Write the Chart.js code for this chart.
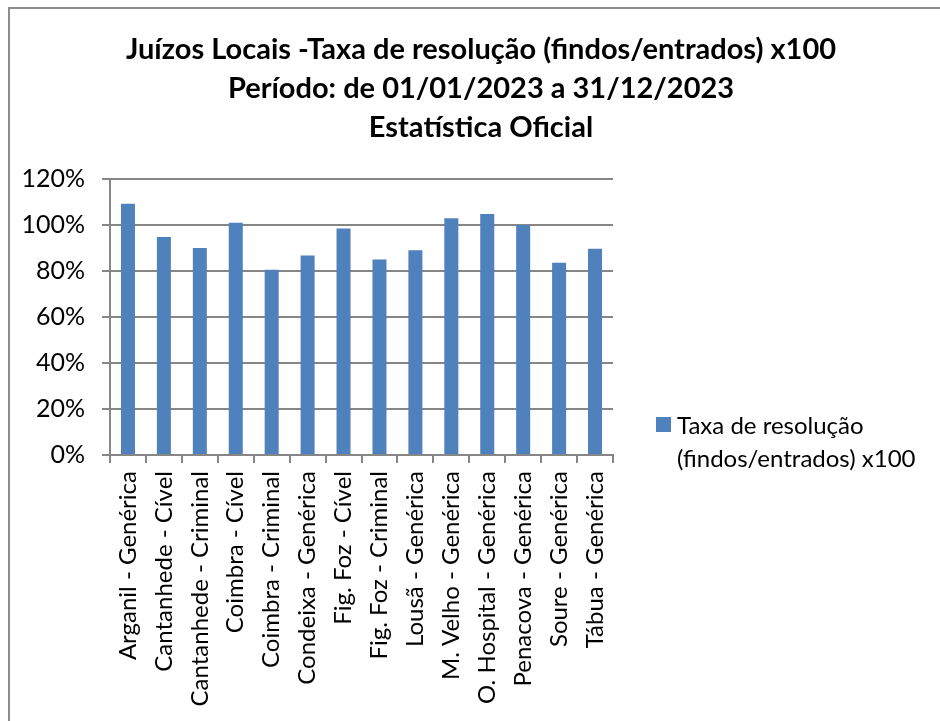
<!DOCTYPE html>
<html>
<head>
<meta charset="utf-8">
<script src="https://cdn.jsdelivr.net/npm/chart.js@4.4.0/dist/chart.umd.min.js"></script>
<style>
  html, body { margin: 0; padding: 0; background: #fff; }
  #wrap { position: relative; width: 940px; height: 721px; overflow: hidden; }
  #frame { position: absolute; left: 8px; top: 7px; width: 1000px; height: 1000px; border: 2px solid #8c8c8c; }
  canvas { position: absolute; left: 0; top: 0; }
  #legend-box { position: absolute; left: 656px; top: 417px; width: 15px; height: 15px; background: #4f81bd; }
  #legend-text { position: absolute; left: 677px; top: 408px; font-family: Lato, sans-serif; font-size: 24px; line-height: 33px; color: #000; white-space: nowrap; }
</style>
</head>
<body>
<div id="wrap">
  <div id="frame"></div>
  <canvas id="chart" width="940" height="721"></canvas>
  <div id="legend-box"></div>
  <div id="legend-text">Taxa de resolução<br>(findos/entrados) x100</div>
</div>
<script>
document.addEventListener("DOMContentLoaded", () => {
  const categories = [
    "Arganil - Genérica", "Cantanhede - Cível", "Cantanhede - Criminal", "Coimbra - Cível",
    "Coimbra - Criminal", "Condeixa - Genérica", "Fig. Foz - Cível", "Fig. Foz - Criminal",
    "Lousã - Genérica", "M. Velho - Genérica", "O. Hospital - Genérica", "Penacova - Genérica",
    "Soure - Genérica", "Tábua - Genérica"
  ];
  const taxa = [109.2, 94.8, 90.0, 101.0, 80.5, 86.7, 98.5, 85.0, 89.0, 102.9, 104.8, 100.0, 83.6, 89.7];
  const titleLines = [
    "Juízos Locais -Taxa de resolução (findos/entrados) x100",
    "Período: de 01/01/2023 a 31/12/2023",
    "Estatística Oficial"
  ];
  const gridColor = "#868686";

  const ctx = document.getElementById("chart").getContext("2d");
  new Chart(ctx, {
    type: "bar",
    data: {
      labels: categories,
      datasets: [{
        label: "Taxa de resolução (findos/entrados) x100",
        data: taxa,
        backgroundColor: "#4f81bd",
        borderWidth: 0,
        categoryPercentage: 1,
        barPercentage: 0.39
      }]
    },
    options: {
      responsive: false,
      devicePixelRatio: 1,
      animation: false,
      layout: { padding: { left: 22, right: 0, top: 0, bottom: 0 } },
      plugins: {
        legend: { display: false },
        tooltip: { enabled: false },
        title: {
          display: true,
          text: titleLines,
          color: "#000",
          font: { family: "Lato, sans-serif", size: 29, weight: "bold", lineHeight: "39px" },
          padding: { top: 30, bottom: 32 }
        }
      },
      scales: {
        x: {
          afterFit: s => { s.height = 266; },
          grid: { display: true, drawOnChartArea: false, drawTicks: true, tickLength: 8, color: gridColor, lineWidth: 2 },
          border: { display: true, color: gridColor, width: 2 },
          ticks: {
            color: "#000", maxRotation: 90, minRotation: 90, padding: 8, autoSkip: false,
            font: { family: "Lato, sans-serif", size: 24 }
          }
        },
        y: {
          min: 0, max: 120,
          afterFit: s => { s.width = 88; },
          grid: { color: gridColor, lineWidth: 2, tickLength: 8 },
          border: { display: true, color: gridColor, width: 2 },
          ticks: {
            stepSize: 20, color: "#000", padding: 17,
            font: { family: "Lato, sans-serif", size: 25 },
            callback: v => v + "%"
          }
        },
        // empty axis that reserves the space where the legend sits
        yRight: {
          position: "right",
          display: true,
          afterFit: s => { s.width = 327; },
          grid: { display: false },
          border: { display: false },
          ticks: { display: false }
        }
      }
    }
  });
});
</script>
</body>
</html>
